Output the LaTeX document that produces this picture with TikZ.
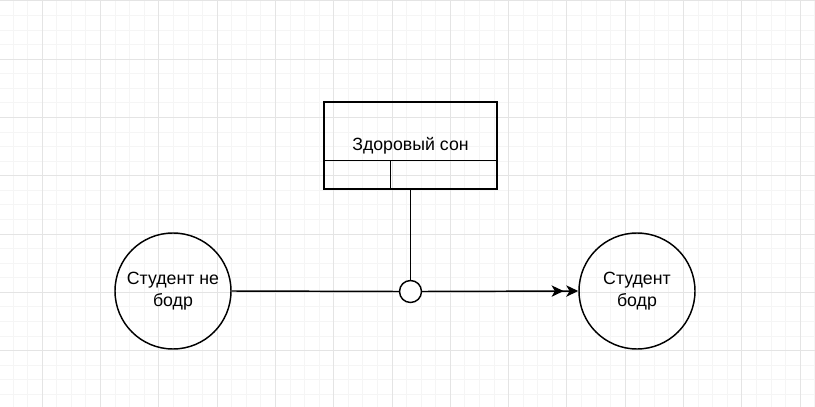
\documentclass[tikz,border=0pt]{standalone}
\usepackage{fontspec}
\setmainfont{Liberation Sans}
\usetikzlibrary{arrows.meta}

\definecolor{gridminor}{RGB}{245,245,245}
\definecolor{gridmajor}{RGB}{228,228,228}
\tikzset{every picture/.style={line width=1.1pt}}

\begin{document}
\begin{tikzpicture}[x=0.75pt,y=0.75pt,yscale=-1,xscale=1,
    state/.style={draw,circle,minimum size=87pt,inner sep=0pt,align=center,
      font=\fontsize{13.3}{16}\selectfont},
    mechbox/.style={draw,rectangle,minimum width=129.75pt,minimum height=65.25pt,
      inner sep=0pt,font=\fontsize{13.3}{16}\selectfont},
    junction/.style={draw,circle,fill=white,minimum size=16.5pt,inner sep=0pt}]
		\useasboundingbox (0,0) rectangle (815,407);
		
		%grid
		\foreach \k in {0,...,55} {
			\draw [gridminor,line width=0.75pt] ({13.1+14.575*\k},0) -- ({13.1+14.575*\k},407);
		}
		\foreach \k in {0,...,28} {
			\draw [gridminor,line width=0.75pt] (0,{0.9+14.575*\k}) -- (815,{0.9+14.575*\k});
		}
		\foreach \k in {0,...,13} {
			\draw [gridmajor,line width=0.75pt] ({42.25+58.3*\k},0) -- ({42.25+58.3*\k},407);
		}
		\foreach \k in {0,...,6} {
			\draw [gridmajor,line width=0.75pt] (0,{0.9+58.3*\k}) -- (815,{0.9+58.3*\k});
		}
		
		%nodes
		\node [state] (notrested) at (173,291) {Студент не\\бодр};
		\node [state] (rested) at (637,291) {Студент\\бодр};
		\node [mechbox] (sleep) at (410.5,145.5) {Здоровый сон};
		\node [junction] (join) at (410.5,291.5) {};
		
		%compartments of the box
		\coordinate (cleft) at (324,160.5);
		\coordinate (cright) at (497,160.5);
		\coordinate (ctop) at (390.5,160.5);
		\coordinate (cbot) at (390.5,189);
		\draw (cleft) -- (cright);
		\draw (ctop) -- (cbot);
		
		%connectors
		\draw (sleep.south) -- (join.north);
		\draw (notrested.east) -- (join.west);
		\draw [-{Stealth[length=9pt,width=8.5pt,inset=2.5pt,sep=2pt]Stealth[length=9pt,width=8.5pt,inset=2.5pt]}] (join.east) -- (rested.west);
		
	\end{tikzpicture}
\end{document}
